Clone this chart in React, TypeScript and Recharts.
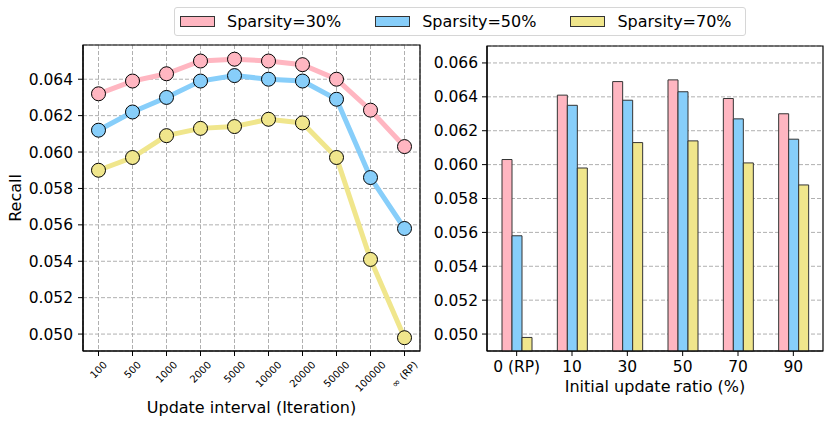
import React from "react";
import {
  LineChart,
  Line,
  BarChart,
  Bar,
  XAxis,
  YAxis,
  CartesianGrid,
  ReferenceArea,
} from "recharts";

// Left panel: recall vs. update interval
const intervals = ["100", "500", "1000", "2000", "5000", "10000", "20000", "50000", "100000", "∞ (RP)"];
const intervalS30 = [0.0632, 0.0639, 0.0643, 0.065, 0.0651, 0.065, 0.0648, 0.064, 0.0623, 0.0603];
const intervalS50 = [0.0612, 0.0622, 0.063, 0.0639, 0.0642, 0.064, 0.0639, 0.0629, 0.0586, 0.0558];
const intervalS70 = [0.059, 0.0597, 0.0609, 0.0613, 0.0614, 0.0618, 0.0616, 0.0597, 0.0541, 0.0498];
const intervalTicks = [0.05, 0.052, 0.054, 0.056, 0.058, 0.06, 0.062, 0.064];

// Right panel: recall vs. initial update ratio
const ratios = ["0 (RP)", "10", "30", "50", "70", "90"];
const ratioS30 = [0.0603, 0.0641, 0.0649, 0.065, 0.0639, 0.063];
const ratioS50 = [0.0558, 0.0635, 0.0638, 0.0643, 0.0627, 0.0615];
const ratioS70 = [0.0498, 0.0598, 0.0613, 0.0614, 0.0601, 0.0588];
const ratioTicks = [0.05, 0.052, 0.054, 0.056, 0.058, 0.06, 0.062, 0.064, 0.066];

const series = [
  { key: "s30", name: "Sparsity=30%", color: "#FFB6C1" },
  { key: "s50", name: "Sparsity=50%", color: "#87CEFA" },
  { key: "s70", name: "Sparsity=70%", color: "#F0E68C" },
];

const intervalData = intervals.map((x, i) => ({
  x,
  s30: intervalS30[i],
  s50: intervalS50[i],
  s70: intervalS70[i],
}));

const ratioData = ratios.map((x, i) => ({
  x,
  s30: ratioS30[i],
  s50: ratioS50[i],
  s70: ratioS70[i],
}));

const FONT = "'DejaVu Sans', sans-serif";
const grid = "#b0b0b0";
const frame = { stroke: "#000", strokeWidth: 1.2 };
const tickStyle = { fill: "#000", fontSize: 15.5, fontFamily: FONT };
const fmt = (v: number) => v.toFixed(3);

// rough DejaVu advance widths, used to centre the rotated labels like matplotlib
const charW: Record<string, number> = { "∞": 0.833, " ": 0.318, "(": 0.39, ")": 0.39, R: 0.695, P: 0.603 };
function textWidth(s: string, size: number) {
  let w = 0;
  for (const c of s) w += charW[c] ?? 0.636;
  return w * size;
}

function RotatedTick(props: any) {
  const { x, y, payload } = props;
  const size = 10;
  const label = String(payload.value);
  const cy = y + (textWidth(label, size) + 11.6) / (2 * Math.SQRT2);
  return (
    <text
      x={x}
      y={cy}
      textAnchor="middle"
      dominantBaseline="central"
      fontSize={size}
      fontFamily={FONT}
      fill="#000"
      transform={`rotate(-45 ${x} ${cy})`}
    >
      {label}
    </text>
  );
}

// box on hidden helper axes (x runs over the row index), so the frame covers the whole plot area
function FrameAxes(rows: number) {
  return [
    <XAxis key="fx" xAxisId="frame" type="number" domain={[0, rows - 1]} allowDataOverflow hide />,
    <YAxis key="fy" yAxisId="frame" type="number" domain={[0, 1]} allowDataOverflow hide />,
    <ReferenceArea
      key="fr"
      xAxisId="frame"
      yAxisId="frame"
      x1={0}
      x2={rows - 1}
      y1={0}
      y2={1}
      fill="none"
      fillOpacity={0}
      stroke="#000"
      strokeWidth={1.2}
      strokeOpacity={1}
      ifOverflow="visible"
    />,
  ];
}

function FigureLegend() {
  return (
    <div
      style={{
        position: "absolute",
        left: 174,
        top: 7,
        width: 572,
        height: 29,
        border: "1px solid #d6d6d6",
        borderRadius: 3,
        background: "#fff",
        display: "flex",
        alignItems: "center",
        paddingLeft: 5,
        boxSizing: "border-box",
        fontFamily: FONT,
        fontSize: 16,
      }}
    >
      {series.map((s, i) => (
        <div key={s.key} style={{ display: "flex", alignItems: "center", marginRight: i < 2 ? 34 : 0 }}>
          <span
            style={{
              display: "inline-block",
              width: 35,
              height: 11,
              background: s.color,
              border: "1px solid #333",
              boxSizing: "border-box",
              marginRight: 12,
            }}
          />
          <span style={{ whiteSpace: "nowrap" }}>{s.name}</span>
        </div>
      ))}
    </div>
  );
}

export default function App() {
  return (
    <div style={{ position: "fixed", left: 0, top: 0, width: 831, height: 425, background: "#fff", fontFamily: FONT }}>
      <div style={{ position: "absolute", left: 0, top: 0 }}>
        <LineChart width={425} height={425} data={intervalData} margin={{ top: 45, right: 5, bottom: 0, left: 0 }}>
          <CartesianGrid stroke={grid} strokeDasharray="4 2" />
          <XAxis
            dataKey="x"
            interval={0}
            padding={{ left: 15.5, right: 15.5 }}
            height={74}
            tickSize={5}
            tickMargin={3}
            tick={<RotatedTick />}
            tickLine={{ stroke: "#000" }}
            axisLine={frame}
            label={{ value: "Update interval (Iteration)", position: "insideBottom", offset: 12, fill: "#000", fontSize: 16, fontFamily: FONT }}
          />
          <YAxis
            type="number"
            domain={[0.04907, 0.06588]}
            ticks={intervalTicks}
            tickFormatter={fmt}
            width={83}
            tickSize={5}
            tickMargin={5}
            tick={tickStyle}
            tickLine={{ stroke: "#000" }}
            axisLine={frame}
            label={{ value: "Recall", angle: -90, position: "insideLeft", offset: 15, fill: "#000", fontSize: 16, fontFamily: FONT, style: { textAnchor: "middle" } }}
          />
          {FrameAxes(intervalData.length)}
          {series.map((s) => (
            <Line
              key={s.key}
              dataKey={s.key}
              name={s.name}
              stroke={s.color}
              strokeWidth={5}
              dot={{ r: 7, fill: s.color, stroke: "#000", strokeWidth: 1 }}
              activeDot={false}
              isAnimationActive={false}
            />
          ))}
        </LineChart>
      </div>
      <div style={{ position: "absolute", left: 420, top: 0 }}>
        <BarChart width={411} height={425} data={ratioData} margin={{ top: 46, right: 8, bottom: 0, left: 0 }} barSize={10} barGap={0}>
          <CartesianGrid stroke={grid} strokeDasharray="4 2" vertical={false} />
          <XAxis
            dataKey="x"
            interval={0}
            padding={{ left: 2, right: 2 }}
            height={74}
            tickSize={5}
            tickMargin={5}
            tick={tickStyle}
            tickLine={{ stroke: "#000" }}
            axisLine={frame}
            label={{ value: "Initial update ratio (%)", position: "insideBottom", offset: 33, fill: "#000", fontSize: 16, fontFamily: FONT }}
          />
          <YAxis
            type="number"
            domain={[0.049, 0.067]}
            ticks={ratioTicks}
            tickFormatter={fmt}
            width={67}
            tickSize={5}
            tickMargin={4}
            tick={tickStyle}
            tickLine={{ stroke: "#000" }}
            axisLine={frame}
          />
          {FrameAxes(ratioData.length)}
          {series.map((s) => (
            <Bar
              key={s.key}
              dataKey={s.key}
              name={s.name}
              fill={s.color}
              stroke="#333"
              strokeWidth={1}
              isAnimationActive={false}
            />
          ))}
        </BarChart>
      </div>
      <FigureLegend />
    </div>
  );
}
